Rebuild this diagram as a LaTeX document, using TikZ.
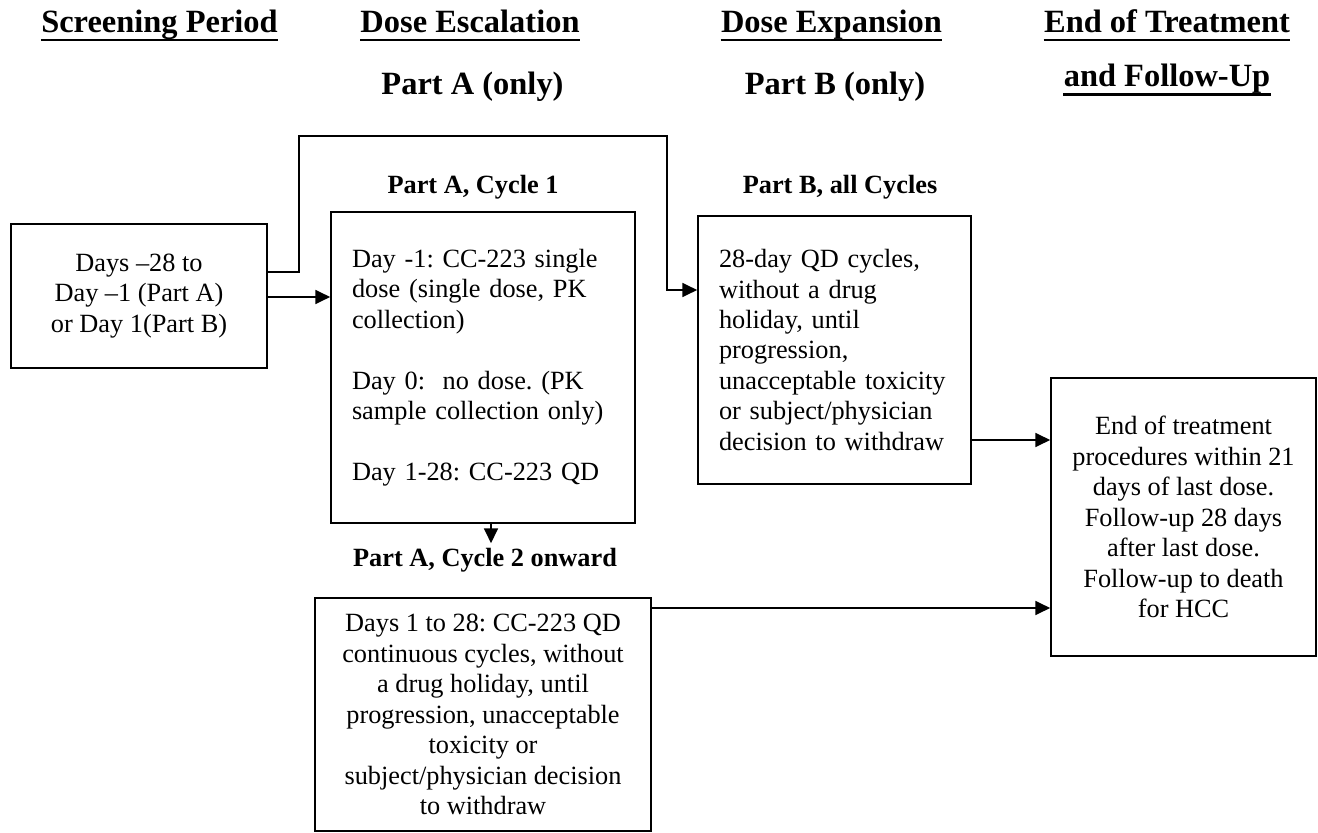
\documentclass[tikz,border=0pt]{standalone}
\usepackage{fontspec}
\setmainfont{Liberation Serif}
\usetikzlibrary{arrows.meta}
\newcommand\pxu{0.456pt}

\begin{document}
\begin{tikzpicture}[x=\pxu, y=-\pxu,
    font=\fontsize{12}{13.9}\selectfont\frenchspacing,
    box/.style={draw, line width=0.75pt, inner sep=0pt, align=center},
    ttl/.style={font=\fontsize{12}{13.9}\selectfont\bfseries, inner sep=2pt},
    hdr/.style={font=\fontsize{14.8}{17}\selectfont\bfseries, inner sep=0pt, anchor=base},
    uline/.style={line width=1.2pt},
    arr/.style={line width=0.75pt, -{Triangle[length=6.8pt, width=6.4pt]}}]
  \useasboundingbox (0,0) rectangle (1318,833);

  \node[hdr] (hSP) at (159.5,32.5) {Screening Period};
  \node[hdr] (hDE) at (470,32.5) {Dose Escalation};
  \node[hdr] (hPA) at (472.5,95) {Part A (only)};
  \node[hdr] (hDX) at (831.5,32.5) {Dose Expansion};
  \node[hdr] (hPB) at (835,95) {Part B (only)};
  \node[hdr] (hET) at (1167,32.5) {End of Treatment};
  \node[hdr] (hFU) at (1167,87) {and Follow-Up};
  \foreach \h in {hSP,hDE,hDX,hET,hFU}
    \draw[uline] ([yshift=-3.4pt]\h.base west) -- ([yshift=-3.4pt]\h.base east);

  \node[box, minimum width=256*\pxu, minimum height=144*\pxu] (scr) at (139,296)
    {Days --28 to\\ Day --1 (Part A)\\ or Day 1(Part B)};
  \node[box, align=left, text width=262*\pxu, minimum width=304*\pxu, minimum height=311*\pxu] (cycA) at (483,367.5)
    {Day -1: CC-223 single\\ dose (single dose, PK\\ collection)\\[13.9pt]
     Day 0:\ \ no dose. (PK\\ sample collection only)\\[13.9pt]
     Day 1-28: CC-223 QD};
  \node[box, align=left, text width=231*\pxu, minimum width=273*\pxu, minimum height=268*\pxu] (partB) at (834.5,350)
    {28-day QD cycles,\\ without a drug\\ holiday, until\\ progression,\\ unacceptable toxicity\\ or subject/physician\\ decision to withdraw};
  \node[box, minimum width=336*\pxu, minimum height=233*\pxu] (cycB) at (483,714.5)
    {Days 1 to 28: CC-223 QD\\ continuous cycles, without\\ a drug holiday, until\\ progression, unacceptable\\ toxicity or\\ subject/physician decision\\ to withdraw};
  \node[box, minimum width=265*\pxu, minimum height=278*\pxu] (eot) at (1183.5,517)
    {End of treatment\\ procedures within 21\\ days of last dose.\\ Follow-up 28 days\\ after last dose.\\ Follow-up to death\\ for HCC};

  \node[ttl] (tA1) at (473,187) {Part A, Cycle 1};
  \node[ttl] (tB) at (840,187) {Part B, all Cycles};
  \node[ttl] (tA2) at (485,560) {Part A, Cycle 2 onward};

  \coordinate (top) at (0,136);
  \coordinate (jA) at (299,272);
  \coordinate (jB) at (667,290);
  \coordinate (dn) at (491,0);
  \coordinate (yS) at (0,297);
  \coordinate (yB) at (0,440);
  \coordinate (yC) at (0,608);

  \draw[arr] (scr.east |- jA) -- (jA) -- (jA |- top) -- (jB |- top) -- (jB) -- (partB.west |- jB);
  \draw[arr] (scr.east |- yS) -- (cycA.west |- yS);
  \draw[arr] (cycA.south -| dn) -- (tA2.north -| dn);
  \draw[arr] (partB.east |- yB) -- (eot.west |- yB);
  \draw[arr] (cycB.east |- yC) -- (eot.west |- yC);
\end{tikzpicture}
\end{document}
